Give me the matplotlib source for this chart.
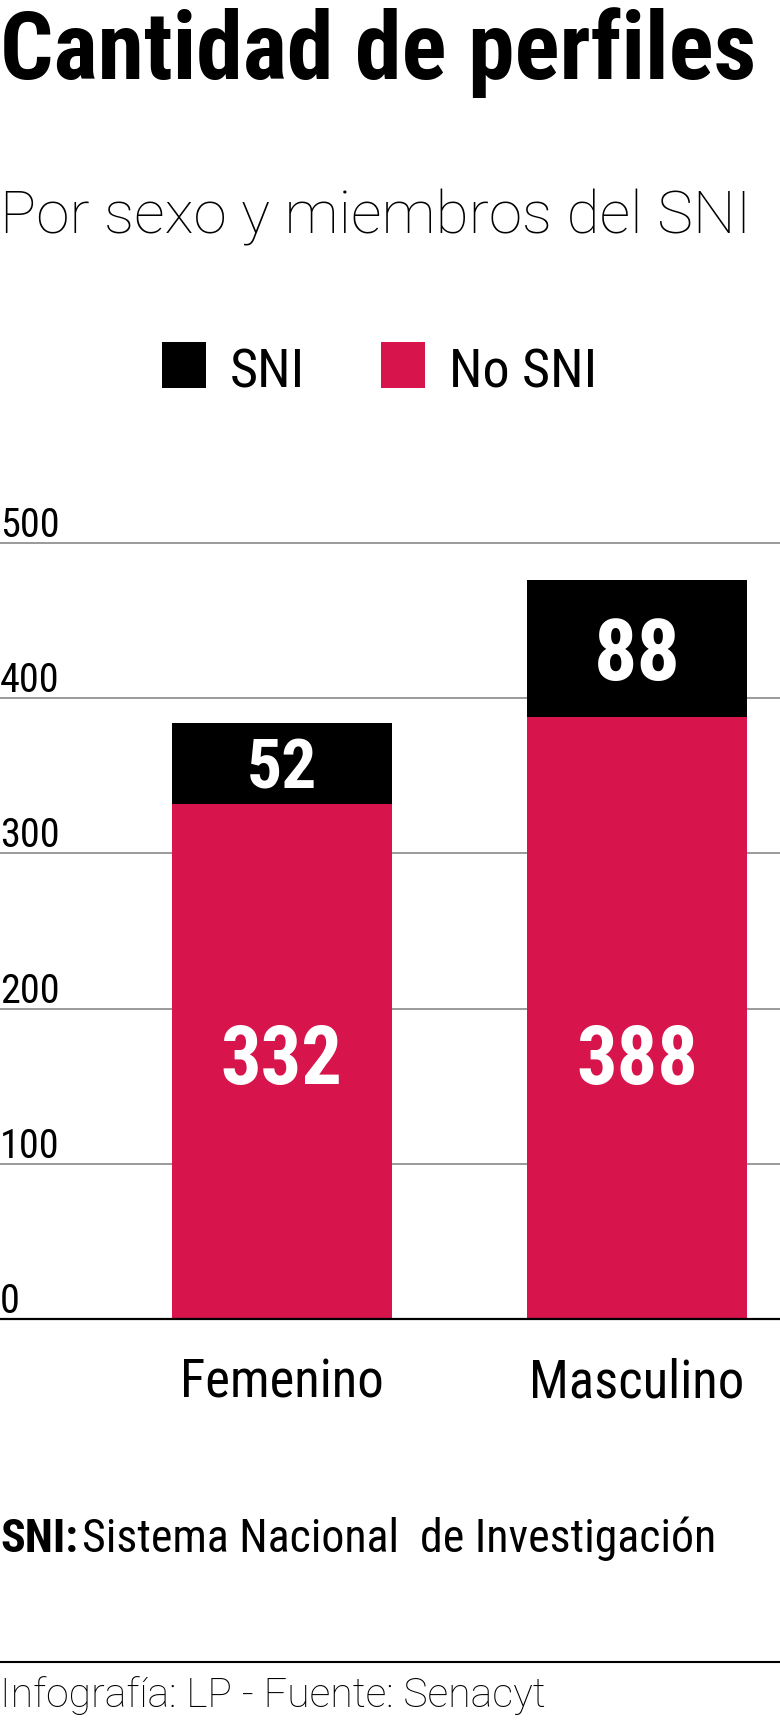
import matplotlib
matplotlib.use("Agg")
import matplotlib.pyplot as plt
import matplotlib.transforms as mtransforms
from matplotlib import font_manager
from matplotlib.patches import Rectangle
from matplotlib.lines import Line2D

categories = ["Femenino", "Masculino"]
no_sni = [332, 388]
sni = [52, 88]
yticks = [0, 100, 200, 300, 400, 500]
legend_labels = ["SNI", "No SNI"]

RED = "#D7144B"
W, H = 780, 1728

# font choice: want a narrow face for most texts, a light one for subtitle/footer
names = {f.name for f in font_manager.fontManager.ttflist}


def pick(cands, default="DejaVu Sans"):
    for c in cands:
        if c in names:
            return c
    return default


narrow = pick(["Liberation Sans Narrow", "Roboto Condensed", "DejaVu Sans Condensed",
               "Open Sans Condensed"], "Liberation Sans")
light = pick(["Roboto", "Lato", "Open Sans", "Inter", "Noto Sans"])
NARROW = [narrow, "DejaVu Sans"]
LIGHT = [light, "DejaVu Sans"]

fig = plt.figure(figsize=(W / 100, H / 100), dpi=100)

# title / subtitle
fig.text(0, 1 - 79 / H, "Cantidad de perfiles", family=NARROW, weight="bold",
         fontstretch="condensed", fontsize=67.5, va="baseline", ha="left")
fig.text(0, 1 - 233 / H, "Por sexo y miembros del SNI", family=LIGHT, weight="light",
         fontsize=43.5, va="baseline", ha="left")

# legend
leg_x = [162, 381]
for lx, lab, col in zip(leg_x, legend_labels, ["black", RED]):
    fig.add_artist(Rectangle((lx / W, 1 - 388 / H), 44 / W, 46 / H,
                             transform=fig.transFigure, color=col, lw=0))
    fig.text((lx + 68) / W, 1 - 388 / H, lab, family=NARROW, fontstretch="condensed",
             fontsize=39, va="baseline", ha="left")

# chart
ax = fig.add_axes([0, (H - 1319) / H, 1, (1319 - 543) / H])
x = list(range(len(categories)))
bw = 0.619
ax.bar(x, no_sni, bw, color=RED, zorder=2)
ax.bar(x, sni, bw, bottom=no_sni, color="black", zorder=2)
ax.set_xlim(-0.792, 1.402)
ax.set_ylim(0, 500)
ax.axis("off")

for v in yticks[1:]:
    ax.axhline(v, color="#9a9a9a", lw=1.4, zorder=1, clip_on=False)
ax.axhline(0, color="black", lw=1.6, zorder=3, clip_on=False)

tick_tr = mtransforms.offset_copy(ax.get_yaxis_transform(), fig=fig, x=0, y=6, units="dots")
for v in yticks:
    ax.text(0, v, str(v), transform=tick_tr, family=NARROW, fontstretch="condensed",
            fontsize=29, va="baseline", ha="left")

# value labels
sni_sizes = [50, 62]
for xi, a, b, fs in zip(x, no_sni, sni, sni_sizes):
    tr = mtransforms.offset_copy(ax.transData, fig=fig, x=0, y=-fs * 0.5, units="dots")
    ax.text(xi, a + b / 2, str(b), transform=tr, color="white", weight="bold",
            family=NARROW, fontstretch="condensed", fontsize=fs, ha="center", va="baseline")
    tr = mtransforms.offset_copy(ax.transData, fig=fig, x=0, y=-58 * 0.5, units="dots")
    ax.text(xi, 170, str(a), transform=tr, color="white", weight="bold",
            family=NARROW, fontstretch="condensed", fontsize=58, ha="center", va="baseline")

cat_tr = mtransforms.offset_copy(ax.transData, fig=fig, x=0, y=-79, units="dots")
for xi, c in zip(x, categories):
    ax.text(xi, 0, c, transform=cat_tr, family=NARROW, fontstretch="condensed",
            fontsize=38, ha="center", va="baseline")

# footnote
r = fig.canvas.get_renderer()
t = fig.text(0, 1 - 1552 / H, "SNI:", family=NARROW, fontstretch="condensed",
             weight="bold", fontsize=33, va="baseline", ha="left")
bb = t.get_window_extent(r)
fig.text(bb.x1 / W + 4 / W, 1 - 1552 / H, "Sistema Nacional  de Investigación",
         family=NARROW, fontstretch="condensed", fontsize=33, va="baseline", ha="left")

fig.add_artist(Line2D([0, 1], [1 - 1662 / H] * 2, color="black", lw=1.5,
                      transform=fig.transFigure))
fig.text(0, 1 - 1707 / H, "Infografía: LP - Fuente: Senacyt", family=LIGHT,
         weight="light", fontsize=29.5, va="baseline", ha="left")

fig.savefig("out.png", dpi=100, facecolor="white")
